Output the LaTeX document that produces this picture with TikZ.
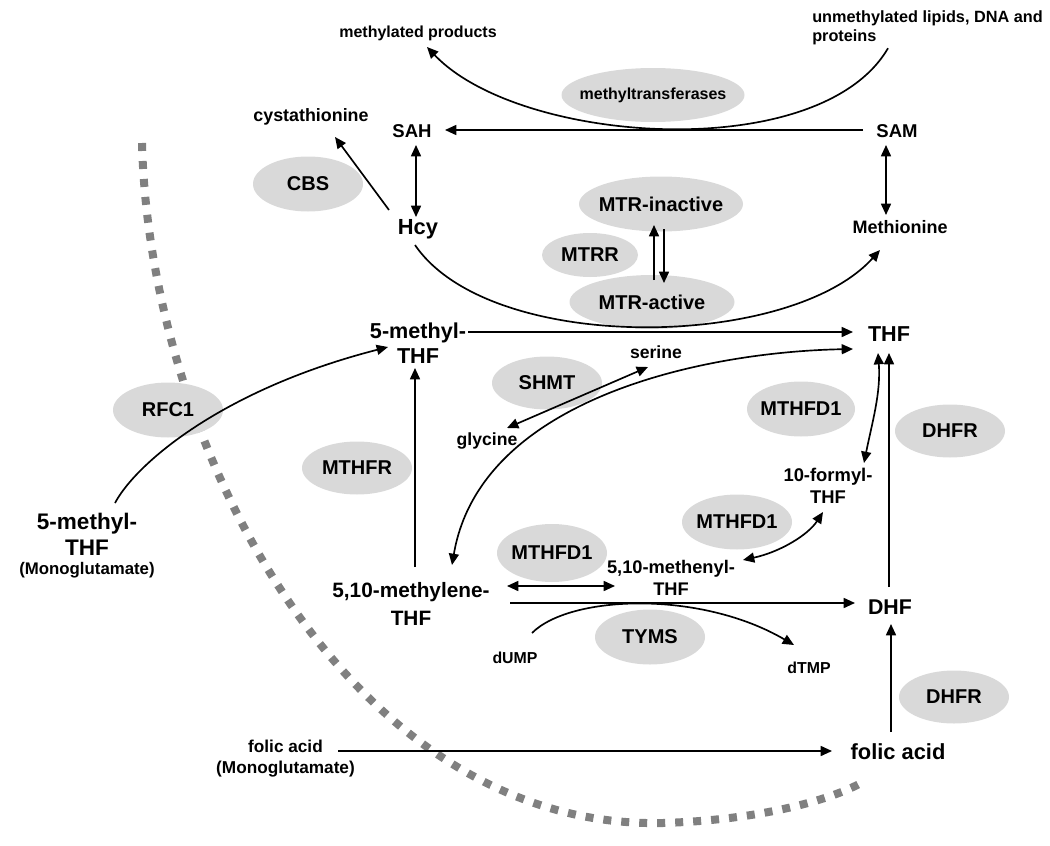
\documentclass[tikz,border=0pt]{standalone}
\usepackage{fontspec}
\setmainfont{Liberation Sans}
\usetikzlibrary{shapes.geometric,arrows.meta,calc}
\definecolor{ellgray}{RGB}{217,217,217}
\definecolor{dotgray}{RGB}{128,128,128}
\newcommand\myfs[2]{\fontsize{#1}{#2}\selectfont\bfseries}
\begin{document}
\begin{tikzpicture}[x=0.75pt,y=-0.75pt,
  lbl/.style={inner sep=0pt, anchor=base},
  ml/.style={inner sep=0pt, align=center},
  enz/.style={ellipse, fill=ellgray, inner xsep=-12pt, inner ysep=0pt,
    minimum width=82.5pt, minimum height=41.25pt, font=\myfs{15}{18}},
  arr/.style={line width=1.25pt, -{Triangle[length=8.5pt,width=7.5pt]}},
  darr/.style={line width=1.25pt, {Triangle[length=8.5pt,width=7.5pt]}-{Triangle[length=8.5pt,width=7.5pt]}},
  dots/.style={draw=dotgray, line width=6pt, dash pattern=on 6pt off 7.5pt}]
\useasboundingbox (0,0) rectangle (1050,846);

% membrane (dotted arc)
\draw[dots] (142,143) .. controls (150,450) and (350,830) .. (663,823)
            .. controls (760,820) and (830,800) .. (861,783);

% enzymes
\node[enz, minimum width=137.25pt, minimum height=40.5pt, font=\myfs{12}{14}] (mtase) at (653,95) {methyltransferases};
\node[enz] (CBS) at (308,184) {CBS};
\node[enz, minimum width=123pt] (mtrin) at (661,204) {MTR-inactive};
\node[enz, minimum width=72pt, minimum height=33pt] (MTRR) at (590,255) {MTRR};
\node[enz, minimum width=123.75pt, minimum height=40.5pt] (mtract) at (652,302) {MTR-active};
\node[enz, minimum height=39.75pt] (SHMT) at (547,383) {SHMT};
\node[enz, minimum width=81pt] (mthfdA) at (801,409) {MTHFD1};
\node[enz, minimum height=39.75pt] (dhfrA) at (950,431) {DHFR};
\node[enz] (RFC1) at (168,410) {RFC1};
\node[enz, minimum height=39.75pt] (MTHFR) at (357,468) {MTHFR};
\node[enz] (mthfdB) at (737,522) {MTHFD1};
\node[enz, minimum height=43.5pt] (mthfdC) at (552,553) {MTHFD1};
\node[enz] (TYMS) at (650,637) {TYMS};
\node[enz, minimum height=39.75pt] (dhfrB) at (954,697) {DHFR};

% metabolites
\node[lbl, font=\myfs{12}{14}] (mprod) at (418,37) {methylated products};
\node[ml, anchor=north west, align=left, font=\myfs{12.2}{14.25}] (unmeth) at (812,10.2) {unmethylated lipids, DNA and\\proteins};
\node[lbl, font=\myfs{13.4}{16}] (cyst) at (311,121) {cystathionine};
\node[lbl, font=\myfs{13.9}{16}] (SAH) at (412,137) {SAH};
\node[lbl, font=\myfs{13.9}{16}] (SAM) at (897,137) {SAM};
\node[lbl, font=\myfs{16.4}{19}] (Hcy) at (418,234) {Hcy};
\node[lbl, font=\myfs{13.5}{16}] (Meth) at (900,233) {Methionine};
\node[ml, anchor=north, font=\myfs{16.2}{18.75}] (mTHF) at (418,322.7) {5-methyl-\\THF};
\node[lbl, font=\myfs{16.2}{19}] (THF) at (889,341) {THF};
\node[lbl, font=\myfs{13.2}{16}] (serine) at (656,358) {serine};
\node[lbl, font=\myfs{13.2}{16}] (glycine) at (487,445) {glycine};
\node[ml, anchor=north, font=\myfs{13.8}{16.5}] (formyl) at (828,467.6) {10-formyl-\\THF};
\node[ml, anchor=north, font=\myfs{13.7}{16.5}] (methenyl) at (671,559.6) {5,10-methenyl-\\THF};
\node[ml, anchor=north, font=\myfs{15.6}{21}] (methylene) at (411,581.7) {5,10-methylene-\\THF};
\node[ml, anchor=north, font=\myfs{16.9}{19.5}] (methTHFL) at (87,512.6) {5-methyl-\\THF\\[-5.25pt]{\myfs{12.6}{15}(Monoglutamate)}};
\node[lbl, font=\myfs{16}{19}] (DHF) at (890,614) {DHF};
\node[lbl, font=\myfs{11.9}{14}] (dUMP) at (515,663) {dUMP};
\node[lbl, font=\myfs{11.9}{14}] (dTMP) at (809,673) {dTMP};
\node[lbl, font=\myfs{16.4}{19}] (folicR) at (898,759) {folic acid};
\node[ml, anchor=north, font=\myfs{12.9}{15.75}] (folicL) at (285.5,740.2) {folic acid\\(Monoglutamate)};

% connectors
\draw[arr] ($(SAM.base)+(-34,-7)$) -- ($(SAH.base)+(33,-7)$);
\draw[darr] ($(SAH.base)+(4,8)$) -- ($(Hcy.base)+(-2,-17)$);
\draw[arr] ($(Hcy.base)+(-29,-24)$) -- ($(cyst.base)+(24,16)$);
\draw[darr] ($(SAM.base)+(-11,8)$) -- ($(Meth.base)+(-14,-18)$);
\draw[arr] ($(Hcy.base)+(-3,11)$) .. controls +(75,110) and +(-90,100) .. ($(Meth.base)+(-20,17)$);
\draw[arr] ($(unmeth.north west)+(76,38)$) .. controls +(-68,117) and +(93,98) .. ($(mprod.base)+(9,10)$);
\draw[arr] ($(mtract.center)+(2,-22)$) -- ($(mtrin.center)+(-7,21)$);
\draw[arr] ($(mtrin.center)+(3,25)$) -- ($(mtract.center)+(12,-19)$);
\draw[arr] ($(mTHF.north)+(50,9.3)$) -- ($(THF.base)+(-36,-9)$);
\draw[arr] ($(methylene.north)+(4,-14.7)$) -- ($(mTHF.north)+(-3,45.3)$);
\draw[darr] ($(THF.base)+(-36,8)$) .. controls +(-153,3) and +(28,-165) .. ($(methylene.north)+(41,-16.7)$);
\draw[darr] ($(glycine.base)+(20,-17)$) -- ($(serine.base)+(-8,9)$);
\draw[darr] ($(THF.base)+(-11,12)$) .. controls +(3,40) and +(8,-40) .. ($(formyl.north)+(36,-4.6)$);
\draw[darr] ($(methenyl.north)+(72,0.4)$) .. controls +(37,-8) and +(-15,23) .. ($(formyl.north)+(-5,44.4)$);
\draw[darr] ($(methylene.north)+(96,4.3)$) -- ($(methenyl.north)+(-56,26.4)$);
\draw[arr] ($(methylene.north)+(99,21.3)$) -- ($(DHF.base)+(-35,-11)$);
\draw[arr] ($(DHF.base)+(-1,-27)$) -- ($(THF.base)+(0,12)$);
\draw[arr] ($(folicR.base)+(-7,-27)$) -- ($(DHF.base)+(1,10)$);
\draw[arr] ($(folicL.north)+(52.5,10.8)$) -- ($(folicR.base)+(-66,-8)$);
\draw[arr] ($(dUMP.base)+(17,-30)$) .. controls +(38,-38) and +(-94,-55) .. ($(dTMP.base)+(-15,-28)$);
\draw[arr] ($(methTHFL.north)+(28,-9.6)$) .. controls +(20,-38) and +(-168,43) .. ($(mTHF.north)+(-30,24.3)$);
\end{tikzpicture}
\end{document}
